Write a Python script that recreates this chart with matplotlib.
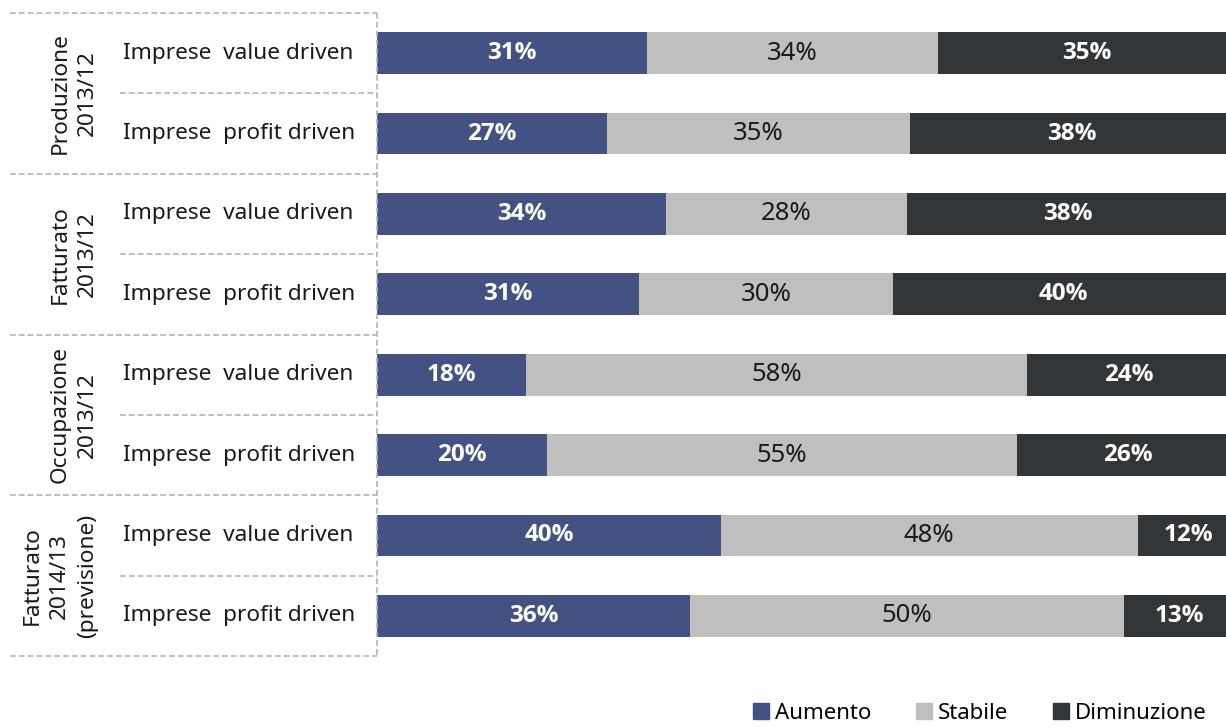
import matplotlib
matplotlib.use("Agg")
import matplotlib.pyplot as plt
import matplotlib.transforms as mtransforms
from matplotlib.patches import Patch

plt.rcParams['font.family'] = ['Noto Sans', 'DejaVu Sans']

# data
rows = ['Imprese  value driven', 'Imprese  profit driven'] * 4
groups = ['Produzione\n2013/12', 'Fatturato\n2013/12', 'Occupazione\n2013/12',
          'Fatturato\n2014/13\n(previsione)']
aumento = [31.8, 27.1, 34.0, 30.9, 17.6, 20.0, 40.5, 36.9]
stabile = [34.3, 35.7, 28.4, 29.9, 59.0, 55.4, 49.1, 51.1]
diminuzione = [35, 38, 38, 40, 24, 26, 12, 13]
lab_aumento = [31, 27, 34, 31, 18, 20, 40, 36]
lab_stabile = [34, 35, 28, 30, 58, 55, 48, 50]
lab_diminuzione = [35, 38, 38, 40, 24, 26, 12, 13]
series = ['Aumento', 'Stabile', 'Diminuzione']
colors = ['#435282', '#bfbfbf', '#333639']

fig = plt.figure(figsize=(12.26, 7.27), dpi=100)
ax = fig.add_axes([377/1226, 1 - 656/727, 1 - 377/1226, (656 - 13)/727])

y = list(range(len(rows)))
h = 0.52
left = [0] * len(rows)
for vals, labs, col in [(aumento, lab_aumento, colors[0]),
                        (stabile, lab_stabile, colors[1]),
                        (diminuzione, lab_diminuzione, colors[2])]:
    ax.barh(y, vals, left=left, height=h, color=col, linewidth=0)
    for yi, l, v, t in zip(y, left, vals, labs):
        if col == colors[1]:
            ax.text(l + v / 2, yi, f'{t}%', ha='center', va='center',
                    color='#1a1a1a', fontsize=18.5)
        else:
            ax.text(l + v / 2, yi, f'{t}%', ha='center', va='center',
                    color='white', fontsize=17.5, fontweight='bold',
                    family=['Open Sans', 'DejaVu Sans'])
    left = [a + b for a, b in zip(left, vals)]

ax.set_xlim(0, 100)
ax.set_ylim(7.5, -0.5)
ax.axis('off')

tr = mtransforms.blended_transform_factory(ax.transAxes, ax.transData)
dash = dict(color='#b4b4b4', lw=1.2, ls=(0, (3.5, 1.8)), clip_on=False, transform=tr)
for gy in [-0.5, 1.5, 3.5, 5.5, 7.5]:
    ax.plot([-0.432, 0], [gy, gy], **dash)
for ry in [0.5, 2.5, 4.5, 6.5]:
    ax.plot([-0.303, 0], [ry, ry], **dash)
ax.plot([0, 0], [-0.5, 7.5], **dash)

for yi, r in zip(y, rows):
    ax.text(-0.299, yi, r, transform=tr, ha='left', va='center',
            fontsize=16.3, color='#1a1a1a')

for gi, g in enumerate(groups):
    ax.text(-0.329, gi * 2 + 0.5, g, transform=tr, rotation=90, ha='right',
            va='center', multialignment='center', fontsize=16.3,
            color='#1a1a1a', linespacing=1.4)

handles = [Patch(color=c, label=s) for c, s in zip(colors, series)]
fig.legend(handles=handles, loc='upper left', bbox_to_anchor=(753/1226, 1 - 703/727),
           ncol=3, frameon=False, fontsize=16, handlelength=0.7,
           handleheight=0.7, handletextpad=0.3, columnspacing=2.0,
           borderaxespad=0, borderpad=0)

fig.savefig('out.png', dpi=100)
